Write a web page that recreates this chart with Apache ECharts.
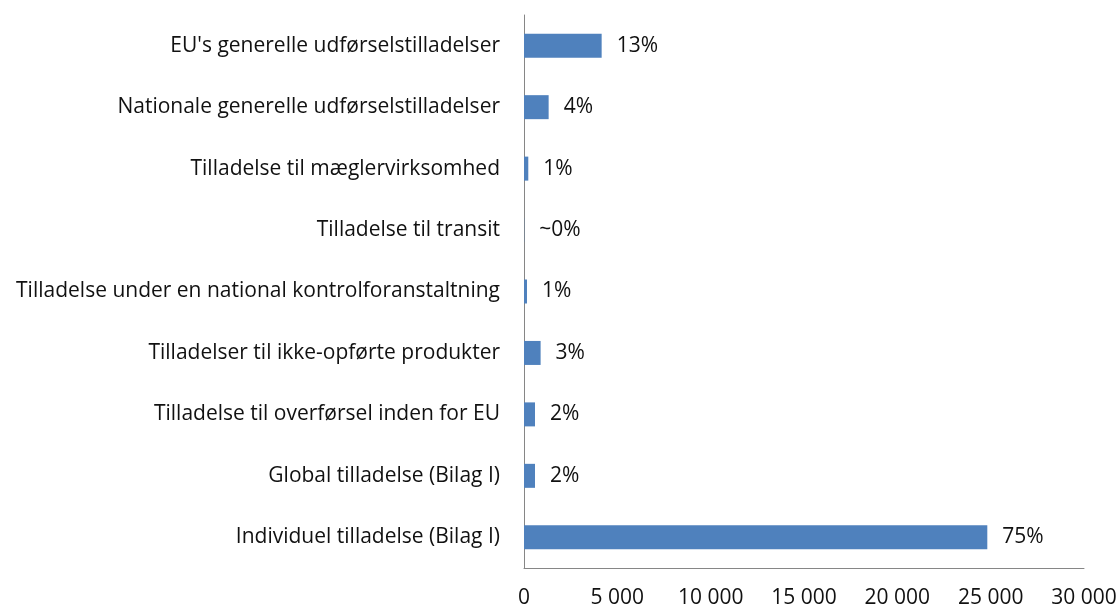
<!DOCTYPE html>
<html>
<head>
<meta charset="utf-8">
<script src="https://cdn.jsdelivr.net/npm/echarts@6/dist/echarts.min.js"></script>
<style>
  html, body { margin: 0; padding: 0; background: #fff; }
  #main { width: 1120px; height: 610px; }
</style>
</head>
<body>
<div id="main"></div>
<script>
// categories listed bottom to top (category axis starts at the bottom)
const categories = [
  'Individuel tilladelse (Bilag I)',
  'Global tilladelse (Bilag I)',
  'Tilladelse til overførsel inden for EU',
  'Tilladelser til ikke-opførte produkter',
  'Tilladelse under en national kontrolforanstaltning',
  'Tilladelse til transit',
  'Tilladelse til mæglervirksomhed',
  'Nationale generelle udførselstilladelser',
  "EU's generelle udførselstilladelser"
];
const values = [24820, 590, 590, 890, 160, 10, 230, 1320, 4160];
const shares = ['75%', '2%', '2%', '3%', '1%', '~0%', '1%', '4%', '13%'];
const xTicks = [0, 5000, 10000, 15000, 20000, 25000, 30000];

const fontFam = '"Open Sans", "Noto Sans", sans-serif';

let myChart = echarts.init(document.getElementById('main'));
let option = {
  animation: false,
  grid: {
    left: 524,
    right: 36,
    top: 15,
    bottom: 42
  },
  xAxis: {
    type: 'value',
    min: xTicks[0],
    max: xTicks[xTicks.length - 1],
    interval: 5000,
    axisLine: { show: true, lineStyle: { color: '#868686', width: 1 } },
    axisTick: { show: false },
    splitLine: { show: false },
    axisLabel: {
      margin: 20,
      color: '#111',
      fontFamily: fontFam,
      fontSize: 21,
      formatter: v => v === 0 ? '0' : String(v).replace(/\B(?=(\d{3})+(?!\d))/g, ' ')
    }
  },
  yAxis: {
    type: 'category',
    data: categories,
    axisLine: { show: true, lineStyle: { color: '#868686', width: 1 } },
    axisTick: { show: false },
    axisLabel: {
      margin: 24,
      color: '#111',
      fontFamily: fontFam,
      fontSize: 21
    }
  },
  series: [
    {
      type: 'bar',
      data: values,
      barWidth: 24,
      itemStyle: { color: '#4F81BD' },
      label: {
        show: true,
        position: 'right',
        distance: 15,
        color: '#111',
        fontFamily: fontFam,
        fontSize: 21,
        formatter: p => shares[p.dataIndex]
      }
    }
  ]
};
myChart.setOption(option);
</script>
</body>
</html>
